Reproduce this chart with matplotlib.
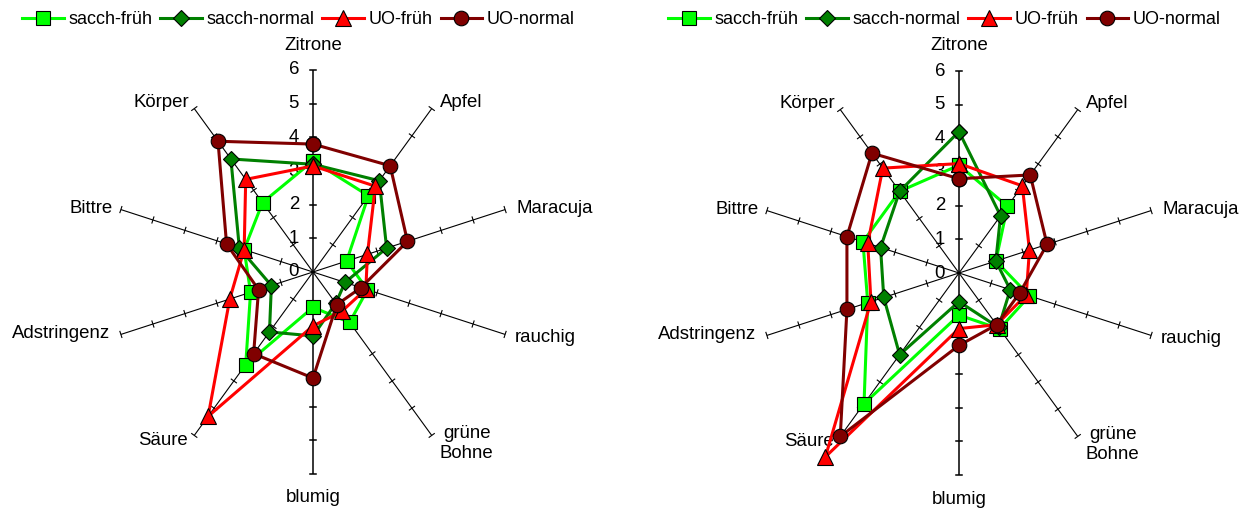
import numpy as np
import matplotlib
matplotlib.use('Agg')
import matplotlib.pyplot as plt
from matplotlib.lines import Line2D

plt.rcParams['font.family'] = ['Liberation Sans', 'DejaVu Sans']

# ---------------- data ----------------
categories = ['Zitrone', 'Apfel', 'Maracuja', 'rauchig', 'grüne\nBohne',
              'blumig', 'Säure', 'Adstringenz', 'Bittre', 'Körper']
series_names = ['sacch-früh', 'sacch-normal', 'UO-früh', 'UO-normal']
tick_values = [0, 1, 2, 3, 4, 5, 6]

# left chart
left_sacch_frueh  = [3.3, 2.8, 1.05, 1.7, 1.85, 1.05, 3.4, 1.95, 2.15, 2.55]
left_sacch_normal = [3.2, 3.35, 2.3, 1.0, 1.15, 1.9, 2.2, 1.3, 2.3, 4.15]
left_uo_frueh     = [3.15, 3.15, 1.7, 1.65, 1.45, 1.6, 5.3, 2.6, 2.15, 3.4]
left_uo_normal    = [3.8, 3.9, 2.95, 1.5, 1.2, 3.15, 3.0, 1.7, 2.7, 4.8]

# right chart
right_sacch_frueh  = [3.2, 2.45, 1.15, 2.2, 2.05, 1.25, 4.8, 2.85, 3.0, 3.0]
right_sacch_normal = [4.2, 2.1, 1.15, 1.6, 2.0, 0.85, 3.0, 2.35, 2.45, 3.0]
right_uo_frueh     = [3.25, 3.2, 2.2, 2.1, 1.9, 1.65, 6.75, 2.75, 2.85, 3.85]
right_uo_normal    = [2.8, 3.6, 2.75, 1.9, 1.9, 2.15, 6.0, 3.5, 3.5, 4.4]

# ---------------- styles ----------------
colors = ['#00FF00', '#008000', '#FF0000', '#800000']
markers = ['s', 'D', '^', 'o']
msizes = [10, 8, 11, 10.5]
FS = 13.4

W, H = 1252, 509
fig = plt.figure(figsize=(W / 100, H / 100), dpi=100)
ppu = 202 / 6.0  # pixels per value unit
rmax = 6

# label offsets in pixels (dx, dy up), and horizontal alignment
label_offsets = [(0, 25, 'center'), (8, 6, 'left'), (11, 1, 'left'),
                 (10, -3, 'left'), (8, -8, 'left'), (0, -24, 'center'),
                 (-6, -5, 'right'), (-11, 1, 'right'), (-8, 1, 'right'),
                 (-5, 6, 'right')]


def make_panel(x0px, cx, cy, data):
    ax = fig.add_axes([x0px / W, 0, 626 / W, 1])
    ax.set_xlim((x0px - cx) / ppu, (x0px + 626 - cx) / ppu)
    ax.set_ylim(-(H - cy) / ppu, cy / ppu)
    ax.axis('off')
    n = len(categories)
    ang = np.deg2rad(90 - 360.0 / n * np.arange(n))
    c, s = np.cos(ang), np.sin(ang)
    h = 3.2 / ppu
    for i in range(n):
        lw = 1.1 if i in (0, 5) else 0.8
        ax.plot([0, rmax * c[i]], [0, rmax * s[i]], color='black', lw=lw,
                zorder=1, solid_capstyle='butt')
        px, py = -s[i], c[i]
        for r in tick_values[1:]:
            ax.plot([r * c[i] - h * px, r * c[i] + h * px],
                    [r * s[i] - h * py, r * s[i] + h * py],
                    color='black', lw=lw, zorder=1)
        dx, dy, ha = label_offsets[i]
        ax.annotate(categories[i], xy=(rmax * c[i], rmax * s[i]),
                    xytext=(dx, dy), textcoords='offset pixels',
                    ha=ha, va='center', fontsize=FS, multialignment='center')
    for v in tick_values:
        ax.text(-14 / ppu, v, str(v), ha='right', va='center', fontsize=FS,
                zorder=2)
    for k, vals in enumerate(data):
        v = np.array(vals)
        x = np.append(v * c, v[0] * c[0])
        y = np.append(v * s, v[0] * s[0])
        ax.plot(x, y, color=colors[k], lw=2.2, marker=markers[k],
                ms=msizes[k], mfc=colors[k], mec='black', mew=0.8,
                zorder=3 + k)
    return ax


make_panel(0, 313, 272, [left_sacch_frueh, left_sacch_normal,
                         left_uo_frueh, left_uo_normal])
make_panel(626, 959, 273, [right_sacch_frueh, right_sacch_normal,
                           right_uo_frueh, right_uo_normal])

handles = [Line2D([], [], color=colors[k], lw=2.2, marker=markers[k],
                  ms=msizes[k], mfc=colors[k], mec='black', mew=0.8)
           for k in range(4)]
for x0 in (22, 668):
    leg = fig.legend(handles, series_names, loc='center left',
                     bbox_to_anchor=(x0 / W, 1 - 20 / H), ncol=4,
                     frameon=False, handlelength=2.3, handletextpad=0.25,
                     columnspacing=0.45, borderpad=0, borderaxespad=0,
                     fontsize=13, numpoints=1)

fig.savefig('out.png', dpi=100)
